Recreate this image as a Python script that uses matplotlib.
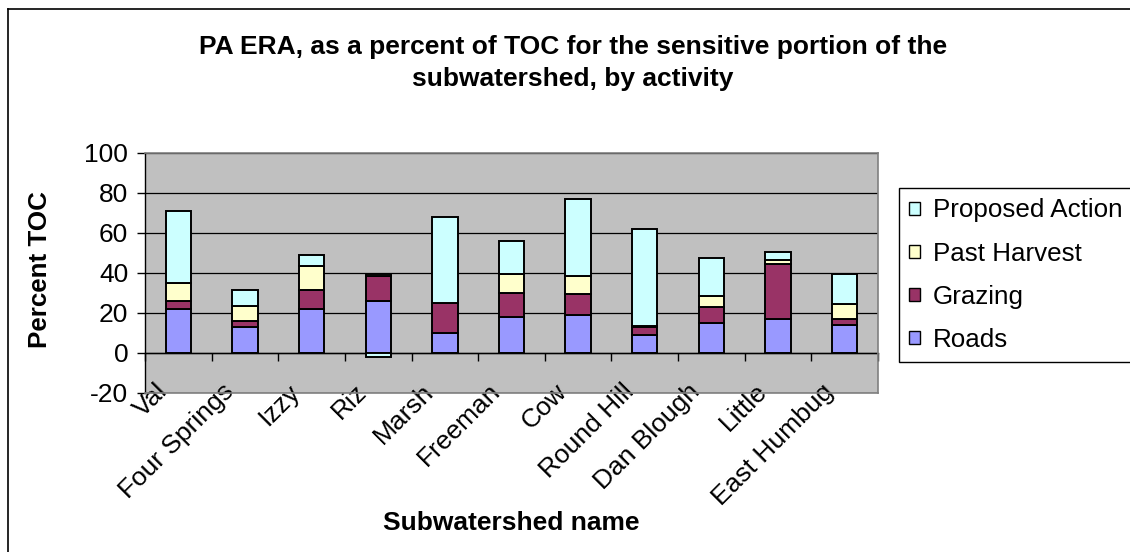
import numpy as np
import matplotlib
matplotlib.use("Agg")
import matplotlib.pyplot as plt
from matplotlib.patches import Patch
from matplotlib.lines import Line2D
from matplotlib.transforms import ScaledTranslation

plt.rcParams["font.family"] = ["Liberation Sans", "DejaVu Sans"]
plt.rcParams["axes.unicode_minus"] = False

# data
subwatersheds = ["Val", "Four Springs", "Izzy", "Riz", "Marsh", "Freeman",
                 "Cow", "Round Hill", "Dan Blough", "Little", "East Humbug"]
roads = [22.0, 13.0, 22.0, 26.1, 10.1, 18.0, 19.2, 9.1, 15.0, 16.8, 14.1]
grazing = [4.1, 3.0, 9.4, 12.5, 15.0, 12.1, 10.1, 4.0, 8.2, 27.6, 3.1]
past_harvest = [9.1, 7.4, 12.3, 1.0, 0.0, 9.3, 9.3, 0.2, 5.3, 2.2, 7.2]
proposed_action = [35.8, 8.1, 5.1, -2.0, 42.9, 16.5, 38.3, 48.6, 19.1, 4.1, 15.2]

series = [("Roads", roads, "#9999FF"),
          ("Grazing", grazing, "#993366"),
          ("Past Harvest", past_harvest, "#FFFFCC"),
          ("Proposed Action", proposed_action, "#CCFFFF")]

W, H = 1130, 552
fig = plt.figure(figsize=(W / 100, H / 100), dpi=100)
ax = fig.add_axes([145 / W, 1 - 393 / H, 733 / W, 240 / H])
ax.set_facecolor("#C0C0C0")

x = np.arange(len(subwatersheds))
pos_bottom = np.zeros(len(x))
neg_bottom = np.zeros(len(x))
handles = []
for name, vals, color in series:
    v = np.array(vals)
    bottom = np.where(v >= 0, pos_bottom, neg_bottom)
    ax.bar(x, v, width=0.38, bottom=bottom, color=color,
           edgecolor="black", linewidth=1.4, zorder=3)
    pos_bottom = pos_bottom + np.where(v >= 0, v, 0)
    neg_bottom = neg_bottom + np.where(v < 0, v, 0)
    handles.append(Patch(facecolor=color, edgecolor="black", linewidth=1.0, label=name))

ax.set_xlim(-0.5, len(x) - 0.5)
ax.set_ylim(-20, 100)
ax.set_yticks(np.arange(-20, 101, 20))
ax.yaxis.grid(True, color="black", linewidth=0.9, zorder=1)
ax.set_axisbelow(True)

for side in ["top", "right", "bottom"]:
    ax.spines[side].set_color("#808080")
    ax.spines[side].set_linewidth(1.2)
ax.spines["left"].set_color("black")
ax.spines["left"].set_linewidth(1.0)

ax.tick_params(axis="y", direction="out", length=6, width=1.0, pad=6, labelsize=19)
ax.set_xticks(x)
ax.set_xticklabels(subwatersheds, rotation=45, ha="right", va="center",
                   rotation_mode="anchor", fontsize=19)
ax.tick_params(axis="x", length=0, pad=10)
shift = ScaledTranslation(-15 / 100, 19 / 100, fig.dpi_scale_trans)
for lab in ax.get_xticklabels():
    lab.set_transform(lab.get_transform() + shift)

# zero line with category-boundary ticks
zero = ax.secondary_xaxis(20 / 120)
zero.set_xticks(np.arange(len(x) + 1) - 0.5)
zero.set_xticklabels([])
zero.tick_params(direction="out", length=6, width=1.0, color="black")
zero.spines["bottom"].set_color("black")
zero.spines["bottom"].set_linewidth(1.0)

ax.set_ylabel("Percent TOC", fontsize=18.7, fontweight="bold")
ax.yaxis.set_label_coords(52 / W, 1 - 270 / H, transform=fig.transFigure)
ax.set_xlabel("Subwatershed name", fontsize=19, fontweight="bold")
ax.xaxis.set_label_coords(511 / W, 1 - 511 / H, transform=fig.transFigure)

fig.text(573 / W, 1 - 63 / H,
         "PA ERA, as a percent of TOC for the sensitive portion of the\nsubwatershed, by activity",
         ha="center", va="center", fontsize=19, fontweight="bold", linespacing=1.45)

leg = fig.legend(handles=handles[::-1], loc="upper left",
                 bbox_to_anchor=(899 / W, 1 - 188 / H), fontsize=18.7,
                 frameon=True, fancybox=False, edgecolor="black", framealpha=1,
                 handlelength=0.4, handleheight=0.4, handletextpad=0.5,
                 borderpad=0.4, labelspacing=0.74, borderaxespad=0)
leg.get_frame().set_linewidth(1.0)

# outer chart frame (left and top edges visible in the picture)
fig.add_artist(Line2D([8 / W, 8 / W], [0, 1 - 9 / H], transform=fig.transFigure,
                      color="black", linewidth=1.2))
fig.add_artist(Line2D([8 / W, 1], [1 - 9 / H, 1 - 9 / H], transform=fig.transFigure,
                      color="black", linewidth=1.2))

fig.savefig("out.png", dpi=100)
